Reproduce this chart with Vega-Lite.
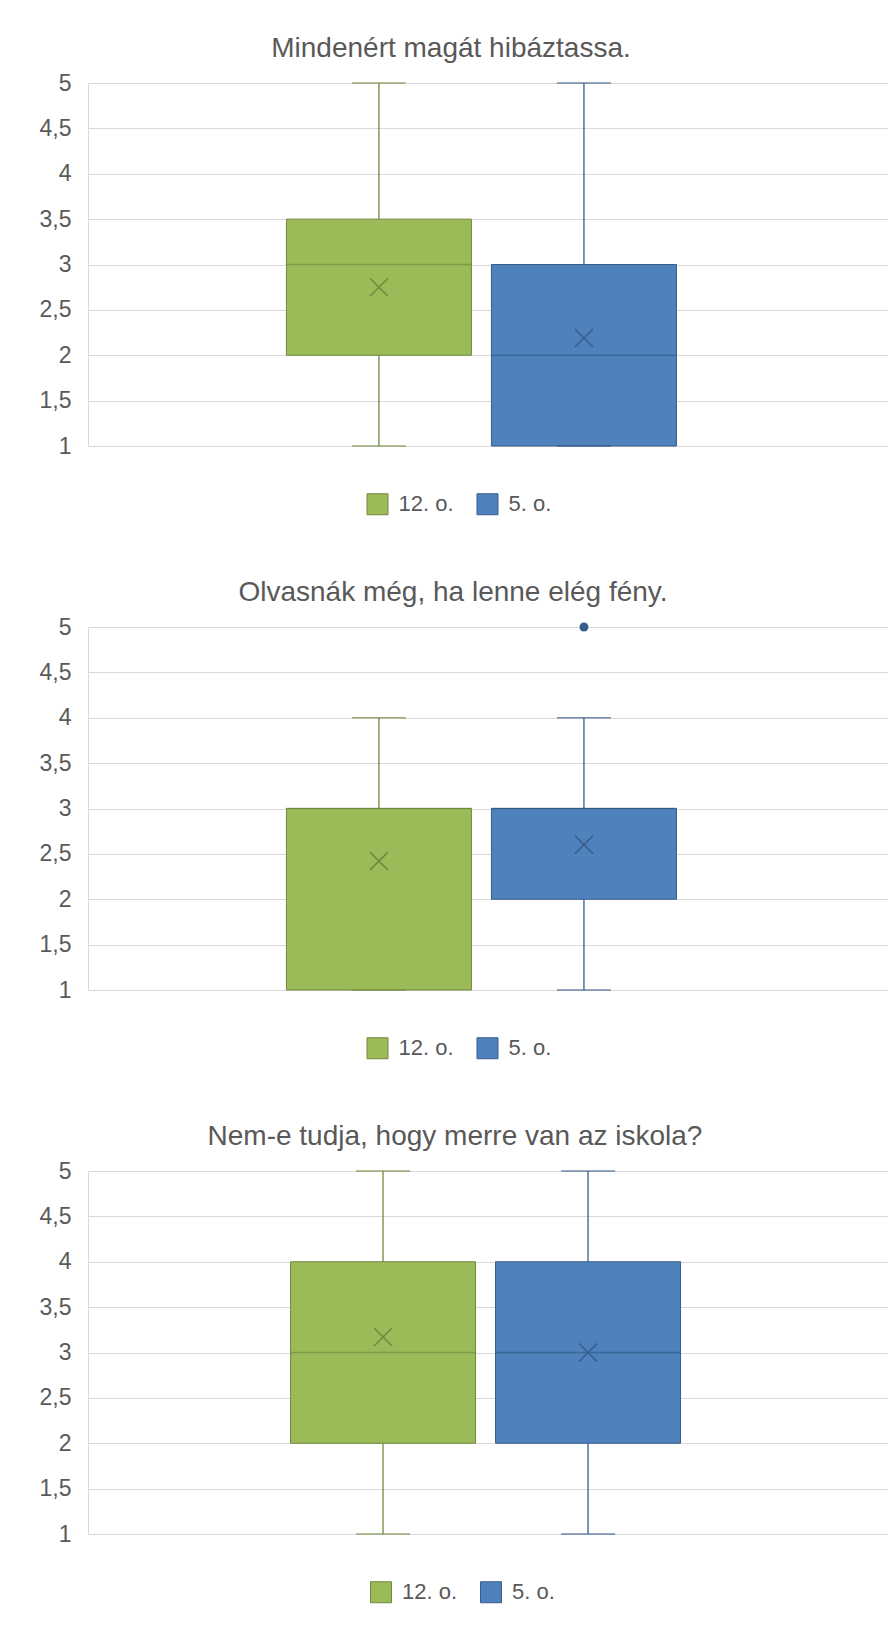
{
  "$schema": "https://vega.github.io/schema/vega-lite/v6.json",
  "background": "white",
  "padding": {"left": 39, "top": 35, "right": 0, "bottom": 0},
  "datasets": {
    "boxes": [
      {"panel": "P1", "cat": "all", "series": "12. o.", "lo": 1, "q1": 2, "med": 3, "q3": 3.5, "hi": 5, "mean": 2.75},
      {"panel": "P1", "cat": "all", "series": "5. o.", "lo": 1, "q1": 1, "med": 2, "q3": 3, "hi": 5, "mean": 2.19},
      {"panel": "P2", "cat": "all", "series": "12. o.", "lo": 1, "q1": 1, "med": 3, "q3": 3, "hi": 4, "mean": 2.42},
      {"panel": "P2", "cat": "all", "series": "5. o.", "lo": 1, "q1": 2, "med": 3, "q3": 3, "hi": 4, "mean": 2.6},
      {"panel": "P3", "cat": "all", "series": "12. o.", "lo": 1, "q1": 2, "med": 3, "q3": 4, "hi": 5, "mean": 3.17},
      {"panel": "P3", "cat": "all", "series": "5. o.", "lo": 1, "q1": 2, "med": 3, "q3": 4, "hi": 5, "mean": 3.0}
    ],
    "outliers": [
      {"panel": "P2", "cat": "all", "series": "5. o.", "value": 5}
    ]
  },
  "vconcat": [
    {
      "title": {"text": "Mindenért magát hibáztassa.", "fontSize": 28, "font": "Liberation Sans", "fontWeight": "normal", "color": "#595959", "anchor": "middle", "dx": -37, "offset": 9},
      "width": 800, "height": 363,
      "data": {"name": "boxes"},
      "transform": [{"filter": "datum.panel == 'P1'"}],
      "encoding": {
        "x": {"field": "cat", "type": "nominal", "axis": null, "scale": {"paddingOuter": 0.5256, "paddingInner": 0, "align": 0.484}},
        "xOffset": {"field": "series", "type": "nominal", "scale": {"domain": ["12. o.", "5. o."], "paddingInner": 0.0976, "paddingOuter": 0}}
      },
      "layer": [
        {"mark": {"type": "rule", "strokeWidth": 1.3},
         "encoding": {
           "y": {"field": "lo", "type": "quantitative", "scale": {"domain": [1, 5], "nice": false, "zero": false},
                 "axis": {"values": [1, 1.5, 2, 2.5, 3, 3.5, 4, 4.5, 5], "format": "~g", "labelExpr": "replace(datum.label, '.', ',')", "grid": true, "gridColor": "#D9D9D9", "domain": true, "domainColor": "#D9D9D9", "ticks": false, "labelFontSize": 23, "labelFont": "Liberation Sans", "labelColor": "#595959", "labelPadding": 17, "title": null}},
           "y2": {"field": "q1"},
           "color": {"field": "series", "type": "nominal", "scale": {"domain": ["5. o.", "12. o."], "range": ["#385D8A", "#71893F"]}, "legend": null}}},
        {"mark": {"type": "rule", "strokeWidth": 1.3},
         "encoding": {"y": {"field": "q3", "type": "quantitative"}, "y2": {"field": "hi"},
           "color": {"field": "series", "type": "nominal", "legend": null}}},
        {"mark": {"type": "bar", "strokeWidth": 1},
         "encoding": {"y": {"field": "q1", "type": "quantitative"}, "y2": {"field": "q3"},
           "fill": {"field": "series", "type": "nominal", "title": null, "scale": {"domain": ["12. o.", "5. o."], "range": ["#9BBB59", "#4F81BD"]},
                    "legend": {"orient": "none", "legendX": 278.5, "legendY": 410, "direction": "horizontal", "symbolType": "square", "symbolSize": 441, "symbolStrokeWidth": 1, "labelFontSize": 22, "labelFont": "Liberation Sans", "labelColor": "#595959", "labelOffset": 10, "columnPadding": 20, "padding": 0,
                               "encode": {"symbols": {"update": {"stroke": {"signal": "datum.value === '12. o.' ? '#71893F' : '#385D8A'"}}}}}},
           "stroke": {"field": "series", "type": "nominal", "scale": {"domain": ["5. o.", "12. o."], "range": ["#385D8A", "#71893F"]}, "legend": null}}},
        {"mark": {"type": "tick", "size": 185, "thickness": 1.5},
         "encoding": {"y": {"field": "med", "type": "quantitative"}, "color": {"field": "series", "type": "nominal", "legend": null}}},
        {"mark": {"type": "tick", "size": 54, "thickness": 1.5},
         "encoding": {"y": {"field": "lo", "type": "quantitative"}, "color": {"field": "series", "type": "nominal", "legend": null}}},
        {"mark": {"type": "tick", "size": 54, "thickness": 1.5},
         "encoding": {"y": {"field": "hi", "type": "quantitative"}, "color": {"field": "series", "type": "nominal", "legend": null}}},
        {"mark": {"type": "point", "shape": "M-1,-1L1,1M-1,1L1,-1", "filled": false, "size": 324, "strokeWidth": 1.5, "opacity": 1},
         "encoding": {"y": {"field": "mean", "type": "quantitative"}, "color": {"field": "series", "type": "nominal", "legend": null}}}
      ]
    },
    {
      "title": {"text": "Olvasnák még, ha lenne elég fény.", "fontSize": 28, "font": "Liberation Sans", "fontWeight": "normal", "color": "#595959", "anchor": "middle", "dx": -35, "offset": 9},
      "width": 800, "height": 363,
      "layer": [
        {
          "data": {"name": "boxes"},
          "transform": [{"filter": "datum.panel == 'P2'"}],
          "encoding": {
            "x": {"field": "cat", "type": "nominal", "axis": null, "scale": {"paddingOuter": 0.5256, "paddingInner": 0, "align": 0.484}},
            "xOffset": {"field": "series", "type": "nominal", "scale": {"domain": ["12. o.", "5. o."], "paddingInner": 0.0976, "paddingOuter": 0}}
          },
          "layer": [
            {"mark": {"type": "rule", "strokeWidth": 1.3},
             "encoding": {
               "y": {"field": "lo", "type": "quantitative", "scale": {"domain": [1, 5], "nice": false, "zero": false},
                     "axis": {"values": [1, 1.5, 2, 2.5, 3, 3.5, 4, 4.5, 5], "format": "~g", "labelExpr": "replace(datum.label, '.', ',')", "grid": true, "gridColor": "#D9D9D9", "domain": true, "domainColor": "#D9D9D9", "ticks": false, "labelFontSize": 23, "labelFont": "Liberation Sans", "labelColor": "#595959", "labelPadding": 17, "title": null}},
               "y2": {"field": "q1"},
               "color": {"field": "series", "type": "nominal", "scale": {"domain": ["5. o.", "12. o."], "range": ["#385D8A", "#71893F"]}, "legend": null}}},
            {"mark": {"type": "rule", "strokeWidth": 1.3},
             "encoding": {"y": {"field": "q3", "type": "quantitative"}, "y2": {"field": "hi"},
               "color": {"field": "series", "type": "nominal", "legend": null}}},
            {"mark": {"type": "bar", "strokeWidth": 1},
             "encoding": {"y": {"field": "q1", "type": "quantitative"}, "y2": {"field": "q3"},
               "fill": {"field": "series", "type": "nominal", "title": null, "scale": {"domain": ["12. o.", "5. o."], "range": ["#9BBB59", "#4F81BD"]},
                        "legend": {"orient": "none", "legendX": 278.5, "legendY": 410, "direction": "horizontal", "symbolType": "square", "symbolSize": 441, "symbolStrokeWidth": 1, "labelFontSize": 22, "labelFont": "Liberation Sans", "labelColor": "#595959", "labelOffset": 10, "columnPadding": 20, "padding": 0,
                                   "encode": {"symbols": {"update": {"stroke": {"signal": "datum.value === '12. o.' ? '#71893F' : '#385D8A'"}}}}}},
               "stroke": {"field": "series", "type": "nominal", "scale": {"domain": ["5. o.", "12. o."], "range": ["#385D8A", "#71893F"]}, "legend": null}}},
            {"mark": {"type": "tick", "size": 185, "thickness": 1.5},
             "encoding": {"y": {"field": "med", "type": "quantitative"}, "color": {"field": "series", "type": "nominal", "legend": null}}},
            {"mark": {"type": "tick", "size": 54, "thickness": 1.5},
             "encoding": {"y": {"field": "lo", "type": "quantitative"}, "color": {"field": "series", "type": "nominal", "legend": null}}},
            {"mark": {"type": "tick", "size": 54, "thickness": 1.5},
             "encoding": {"y": {"field": "hi", "type": "quantitative"}, "color": {"field": "series", "type": "nominal", "legend": null}}},
            {"mark": {"type": "point", "shape": "M-1,-1L1,1M-1,1L1,-1", "filled": false, "size": 324, "strokeWidth": 1.5, "opacity": 1},
             "encoding": {"y": {"field": "mean", "type": "quantitative"}, "color": {"field": "series", "type": "nominal", "legend": null}}}
          ]
        },
        {
          "data": {"name": "outliers"},
          "mark": {"type": "point", "shape": "circle", "filled": true, "size": 80, "opacity": 1},
          "encoding": {
            "x": {"field": "cat", "type": "nominal"},
            "xOffset": {"field": "series", "type": "nominal"},
            "y": {"field": "value", "type": "quantitative"},
            "color": {"field": "series", "type": "nominal", "legend": null}
          }
        }
      ]
    },
    {
      "title": {"text": "Nem-e tudja, hogy merre van az iskola?", "fontSize": 28, "font": "Liberation Sans", "fontWeight": "normal", "color": "#595959", "anchor": "middle", "dx": -33, "offset": 9},
      "width": 800, "height": 363,
      "data": {"name": "boxes"},
      "transform": [{"filter": "datum.panel == 'P3'"}],
      "encoding": {
        "x": {"field": "cat", "type": "nominal", "axis": null, "scale": {"paddingOuter": 0.5256, "paddingInner": 0, "align": 0.494}},
        "xOffset": {"field": "series", "type": "nominal", "scale": {"domain": ["12. o.", "5. o."], "paddingInner": 0.0976, "paddingOuter": 0}}
      },
      "layer": [
        {"mark": {"type": "rule", "strokeWidth": 1.3},
         "encoding": {
           "y": {"field": "lo", "type": "quantitative", "scale": {"domain": [1, 5], "nice": false, "zero": false},
                 "axis": {"values": [1, 1.5, 2, 2.5, 3, 3.5, 4, 4.5, 5], "format": "~g", "labelExpr": "replace(datum.label, '.', ',')", "grid": true, "gridColor": "#D9D9D9", "domain": true, "domainColor": "#D9D9D9", "ticks": false, "labelFontSize": 23, "labelFont": "Liberation Sans", "labelColor": "#595959", "labelPadding": 17, "title": null}},
           "y2": {"field": "q1"},
           "color": {"field": "series", "type": "nominal", "scale": {"domain": ["5. o.", "12. o."], "range": ["#385D8A", "#71893F"]}, "legend": null}}},
        {"mark": {"type": "rule", "strokeWidth": 1.3},
         "encoding": {"y": {"field": "q3", "type": "quantitative"}, "y2": {"field": "hi"},
           "color": {"field": "series", "type": "nominal", "legend": null}}},
        {"mark": {"type": "bar", "strokeWidth": 1},
         "encoding": {"y": {"field": "q1", "type": "quantitative"}, "y2": {"field": "q3"},
           "fill": {"field": "series", "type": "nominal", "title": null, "scale": {"domain": ["12. o.", "5. o."], "range": ["#9BBB59", "#4F81BD"]},
                    "legend": {"orient": "none", "legendX": 282, "legendY": 410, "direction": "horizontal", "symbolType": "square", "symbolSize": 441, "symbolStrokeWidth": 1, "labelFontSize": 22, "labelFont": "Liberation Sans", "labelColor": "#595959", "labelOffset": 10, "columnPadding": 20, "padding": 0,
                               "encode": {"symbols": {"update": {"stroke": {"signal": "datum.value === '12. o.' ? '#71893F' : '#385D8A'"}}}}}},
           "stroke": {"field": "series", "type": "nominal", "scale": {"domain": ["5. o.", "12. o."], "range": ["#385D8A", "#71893F"]}, "legend": null}}},
        {"mark": {"type": "tick", "size": 185, "thickness": 1.5},
         "encoding": {"y": {"field": "med", "type": "quantitative"}, "color": {"field": "series", "type": "nominal", "legend": null}}},
        {"mark": {"type": "tick", "size": 54, "thickness": 1.5},
         "encoding": {"y": {"field": "lo", "type": "quantitative"}, "color": {"field": "series", "type": "nominal", "legend": null}}},
        {"mark": {"type": "tick", "size": 54, "thickness": 1.5},
         "encoding": {"y": {"field": "hi", "type": "quantitative"}, "color": {"field": "series", "type": "nominal", "legend": null}}},
        {"mark": {"type": "point", "shape": "M-1,-1L1,1M-1,1L1,-1", "filled": false, "size": 324, "strokeWidth": 1.5, "opacity": 1},
         "encoding": {"y": {"field": "mean", "type": "quantitative"}, "color": {"field": "series", "type": "nominal", "legend": null}}}
      ]
    }
  ],
  "spacing": 181,
  "bounds": "flush",
  "resolve": {
    "scale": {"fill": "independent", "stroke": "independent", "color": "independent"},
    "legend": {"fill": "independent", "stroke": "independent"}
  },
  "config": {
    "view": {"stroke": null},
    "font": "Liberation Sans"
  }
}
